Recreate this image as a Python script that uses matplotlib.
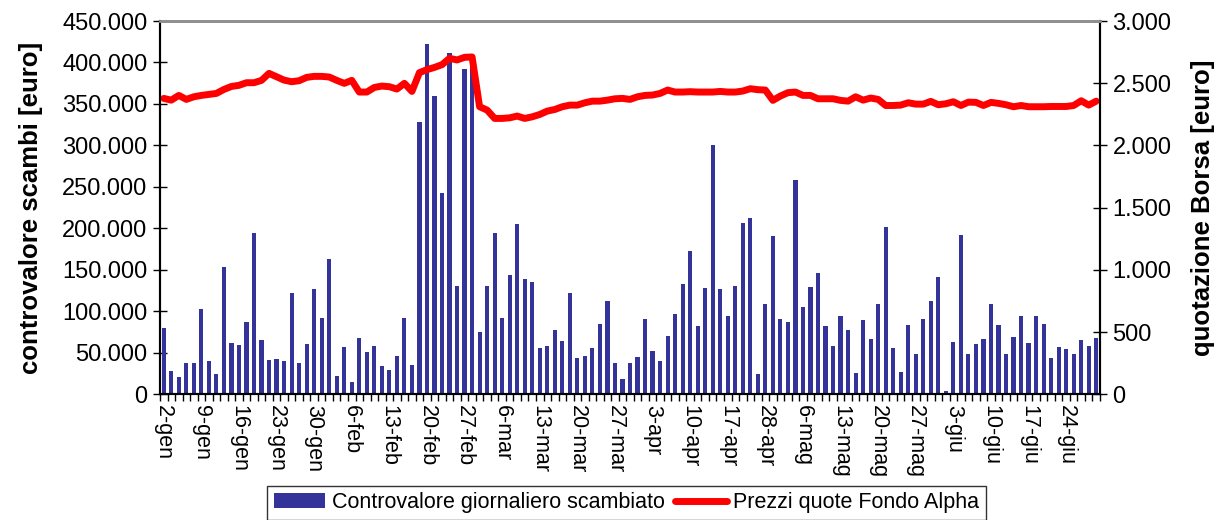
import numpy as np
import matplotlib
matplotlib.use('Agg')
import matplotlib.pyplot as plt
from matplotlib.ticker import FuncFormatter, FixedLocator

plt.rcParams['font.family'] = ['Liberation Sans', 'DejaVu Sans']

# daily traded value (euro), one bar per trading day
controvalore = [
    80100, 28600, 21000, 37800, 37800, 103000, 40300, 24600, 153800, 62000,
    59600, 87400, 194800, 65600, 41500, 42700, 40300, 122400, 37800, 60800,
    127200, 92200, 163400, 22100, 57200, 14900, 68000, 51100, 58400, 34200,
    29400, 46300, 92200, 35400, 327700, 421900, 359100, 243200, 411000, 130800,
    391700, 405000, 74500, 130800, 194800, 92200, 144100, 205700, 139300, 135700,
    56000, 58400, 77700, 64400, 122400, 43900, 46300, 56000, 84900, 112700,
    37800, 18500, 37800, 45100, 91000, 52300, 40300, 70500, 97000, 133300,
    173100, 82500, 128400, 301100, 127200, 94600, 130800, 206900, 213000, 24600,
    109100, 191200, 91000, 87400, 258900, 105500, 129600, 146500, 82500, 58400,
    94600, 77700, 25800, 89800, 66800, 109100, 202100, 56000, 27000, 83700,
    48700, 91000, 112700, 141700, 4000, 63200, 192400, 48700, 60800, 66800,
    109100, 83700, 48700, 69200, 94600, 62000, 94600, 84900, 43900, 57200,
    54800, 48700, 65600, 58400, 68000,
]

# share price (euro), same days
prezzi = [
    2378, 2364, 2402, 2370, 2391, 2402, 2410, 2418, 2450, 2474,
    2483, 2504, 2504, 2523, 2579, 2552, 2525, 2512, 2520, 2547,
    2555, 2555, 2550, 2523, 2499, 2523, 2429, 2429, 2466, 2477,
    2472, 2453, 2499, 2434, 2585, 2609, 2627, 2649, 2700, 2687,
    2708, 2711, 2311, 2284, 2217, 2217, 2222, 2236, 2217, 2230,
    2249, 2276, 2289, 2311, 2324, 2324, 2343, 2356, 2356, 2364,
    2375, 2378, 2370, 2391, 2402, 2405, 2418, 2445, 2429, 2429,
    2432, 2429, 2429, 2429, 2434, 2429, 2429, 2437, 2456, 2448,
    2445, 2362, 2397, 2424, 2429, 2402, 2402, 2375, 2375, 2375,
    2362, 2356, 2391, 2364, 2381, 2370, 2321, 2321, 2324, 2343,
    2332, 2332, 2354, 2327, 2335, 2351, 2321, 2348, 2346, 2321,
    2346, 2338, 2327, 2311, 2321, 2311, 2311, 2311, 2313, 2313,
    2313, 2321, 2359, 2324, 2356,
]

# a label every 5 trading days
etichette = ['2-gen', '9-gen', '16-gen', '23-gen', '30-gen', '6-feb', '13-feb',
             '20-feb', '27-feb', '6-mar', '13-mar', '20-mar', '27-mar', '3-apr',
             '10-apr', '17-apr', '28-apr', '6-mag', '13-mag', '20-mag', '27-mag',
             '3-giu', '10-giu', '17-giu', '24-giu']

def punti(v, pos):
    return f"{int(round(v)):,}".replace(',', '.')

n = len(controvalore)
x = np.arange(n)

fig = plt.figure(figsize=(12.26, 5.2), dpi=100)
ax = fig.add_axes([160/1226, 1-394.3/520, 940/1226, (394.3-21)/520])

ax.bar(x, controvalore, width=0.55, color='#333399', zorder=2,
       label='Controvalore giornaliero scambiato')
ax.set_xlim(-0.5, n-0.5)
ax.set_ylim(0, 450000)
ax.set_yticks(np.arange(0, 450001, 50000))
ax.yaxis.set_major_formatter(FuncFormatter(punti))
ax.set_ylabel('controvalore scambi [euro]', fontsize=18.5, fontweight='bold', labelpad=14)

ax.set_xticks(x[::5])
ax.set_xticklabels(etichette, rotation=-90, fontsize=15.5)
ax.xaxis.set_minor_locator(FixedLocator(np.arange(-0.5, n, 1)))
ax.tick_params(axis='x', which='major', length=0, pad=8)
ax.tick_params(axis='x', which='minor', length=5, width=1, direction='out')
ax.tick_params(axis='y', length=10, width=1, direction='inout', labelsize=17, pad=4)

ax2 = ax.twinx()
ax2.plot(x, prezzi, color='#ff0000', lw=5, solid_capstyle='round',
         label='Prezzi quote Fondo Alpha')
ax2.set_ylim(0, 3000)
ax2.set_yticks(np.arange(0, 3001, 500))
ax2.yaxis.set_major_formatter(FuncFormatter(punti))
ax2.set_ylabel('quotazione Borsa [euro]', fontsize=18.5, fontweight='bold', labelpad=14)
ax2.tick_params(axis='y', length=10, width=1, direction='inout', labelsize=17, pad=4)

for a in (ax, ax2):
    a.spines['top'].set_color('#909090')
    a.spines['top'].set_linewidth(2)
    a.spines['left'].set_linewidth(1.5)
    a.spines['right'].set_linewidth(1.5)
    a.spines['bottom'].set_linewidth(1.5)

h1, l1 = ax.get_legend_handles_labels()
h2, l2 = ax2.get_legend_handles_labels()
leg = fig.legend(h1 + h2, l1 + l2, loc='upper center', bbox_to_anchor=(0.511, 1-486/520),
                 ncol=2, fontsize=15.5, frameon=True, fancybox=False, edgecolor='black',
                 borderpad=0.3, handlelength=2.4, handletextpad=0.3, columnspacing=0.5,
                 borderaxespad=0)
leg.get_frame().set_linewidth(1)

fig.savefig('out.png', dpi=100)
